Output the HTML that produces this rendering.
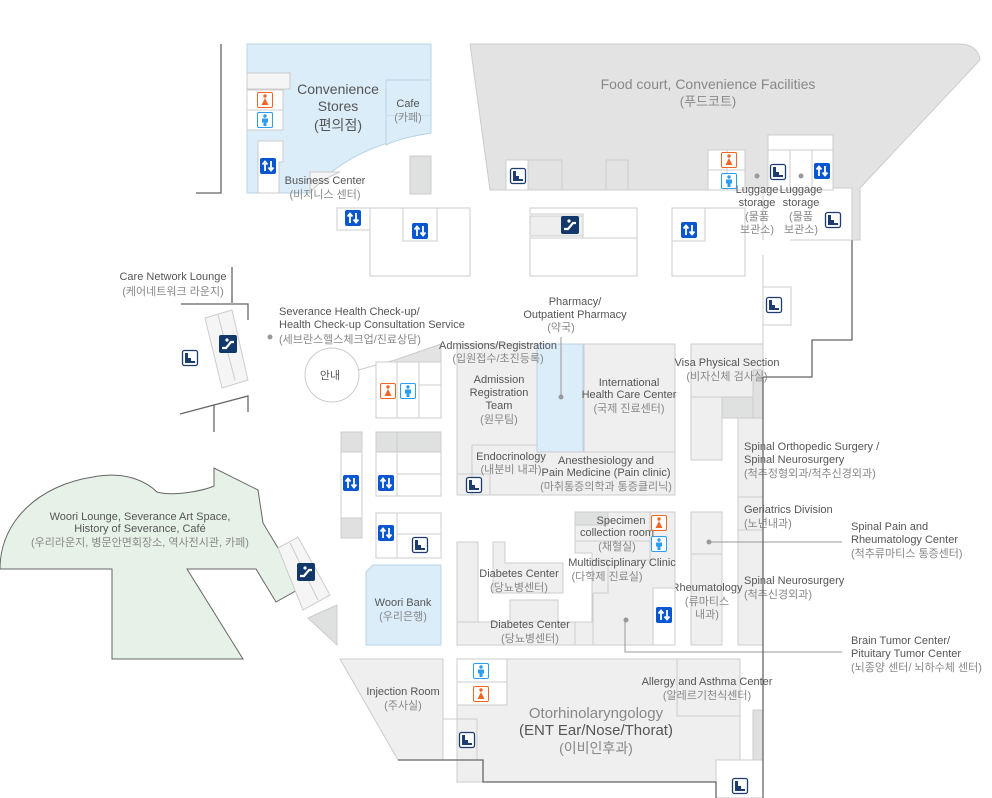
<!DOCTYPE html>
<html><head><meta charset="utf-8"><style>
html,body{margin:0;padding:0;background:#fff;}
svg{display:block;}
text{font-family:"Liberation Sans","Noto Sans CJK KR",sans-serif;font-size:11px;fill:#555;text-anchor:middle;letter-spacing:0px}
.k{fill:#888}
.s{text-anchor:start}
.r{fill:#efeff0;stroke:#ccc;stroke-width:1}
.w{fill:#fff;stroke:#ccc;stroke-width:1}
.g{fill:#dfe0e0;stroke:#ccc;stroke-width:1}
.wall{fill:none;stroke:#666;stroke-width:1.3}
.ld{fill:none;stroke:#999;stroke-width:1}
</style></head><body>
<svg width="992" height="798" viewBox="0 0 992 798">
<defs>
<g id="el"><rect x="0" y="0" width="16" height="16" rx="2" fill="#0a56d0"/><path d="M5 13V4M2.5 6.5L5 3.5L7.5 6.5M11 3v9M8.5 9.5L11 12.5L13.5 9.5" stroke="#fff" stroke-width="1.8" fill="none"/></g>
<g id="st"><rect x="0.5" y="0.5" width="15" height="15" rx="2" fill="#fff" stroke="#1d3d6e" stroke-width="1.3"/><path d="M3 3h3v5h3v3h4v2H3z" fill="#1d3d6e"/></g>
<g id="es"><rect x="0" y="0" width="18" height="18" rx="2" fill="#12386b"/><path d="M3 13h4l5-6h3" stroke="#fff" stroke-width="2.2" fill="none"/><circle cx="8" cy="5" r="1.6" fill="#fff"/></g>
<g id="fm"><rect x="0.5" y="0.5" width="15" height="15" rx="1.5" fill="#fff" stroke="#f26522"/><circle cx="8" cy="4" r="1.7" fill="#f26522"/><path d="M8 6L4.5 13h7z" fill="#f26522"/></g>
<g id="ml"><rect x="0.5" y="0.5" width="15" height="15" rx="1.5" fill="#fff" stroke="#2a9df4"/><circle cx="8" cy="4" r="1.7" fill="#2a9df4"/><path d="M5 6.5h6v4H9.5V14h-3v-3.5H5z" fill="#2a9df4"/></g>
</defs>

<!-- Food court -->
<path d="M470 44H958Q978 44 980 60L860 188V240H852V188H833V135H768V188H745V150H708V190H490Z" fill="#e3e3e3" stroke="#ccc"/>
<rect x="506" y="160" width="22" height="30" class="w"/>
<rect x="528" y="160" width="34" height="30" fill="#e3e3e3" stroke="#ccc"/>
<rect x="606" y="160" width="22" height="30" fill="#e3e3e3" stroke="#ccc"/>
<rect x="708" y="150" width="37" height="40" class="w"/>
<line x1="727" y1="150" x2="727" y2="190" stroke="#ccc"/>
<line x1="708" y1="170" x2="745" y2="170" stroke="#ccc"/>
<rect x="768" y="150" width="22" height="40" class="w"/><rect x="790" y="150" width="22" height="40" class="w"/><rect x="812" y="150" width="21" height="40" class="w"/>
<text x="708" y="89" style="font-size:14px" class="k">Food court, Convenience Facilities</text>
<text x="708" y="106" style="font-size:13px" class="k">(푸드코트)</text>

<!-- Convenience -->
<path d="M247 44H431V133Q350 145 310 193H247Z" fill="#dcedfa" stroke="#b9d4e4"/>
<rect x="386" y="80" width="45" height="36" fill="#dcedfa" stroke="#b9d4e4"/>
<path d="M386 116V145Q400 138 431 133V116" fill="#dcedfa" stroke="#b9d4e4"/>
<rect x="247" y="73" width="43" height="16" fill="#f5f5f5" stroke="#ccc"/>
<rect x="247" y="90" width="36" height="20" class="w"/><rect x="247" y="110" width="36" height="20" class="w"/>
<path d="M258 141H283V162H279V193H258Z" class="w"/>
<path d="M310 172H340Q320 180 310 193Z" fill="#f5f5f5" stroke="#ccc"/>
<rect x="410" y="156" width="21" height="38" class="g"/>
<text x="338" y="94" style="font-size:14px">Convenience</text>
<text x="338" y="111" style="font-size:14px">Stores</text>
<text x="338" y="130" style="font-size:14px">(편의점)</text>
<text x="408" y="107">Cafe</text><text x="408" y="121" class="k">(카페)</text>
<text x="325" y="184">Business Center</text><text x="325" y="198" class="k">(비지니스 센터)</text>
<path d="M221 44V193H196" class="wall"/>

<!-- top boxes -->
<rect x="337" y="208" width="33" height="22" class="w"/>
<path d="M370 208H403V241H437V208H470V276H370Z" class="w"/>
<rect x="403" y="208" width="34" height="33" class="w"/>
<path d="M530 208H637V238H583V214H530Z M530 238H637V276H530Z" fill="#fff" stroke="#ccc"/>
<rect x="530" y="216" width="53" height="20" fill="#eee" stroke="#ccc"/>
<rect x="672" y="208" width="73" height="68" class="w"/>
<rect x="672" y="208" width="33" height="33" class="w"/>
<path d="M763 190V240M763 255V355" stroke="#ccc"/>
<rect x="763" y="287" width="28" height="38" class="w"/>
<path d="M852 240V340H812V377H763" class="wall"/>
<path d="M790 240H852" stroke="#ccc"/>

<!-- left lounge area -->
<path d="M232 267V303M181 304H248V320" class="wall"/>
<path d="M205 318L232 310L248 380L222 388Z" fill="#f5f5f5" stroke="#ccc"/>
<path d="M218 315L235 380" stroke="#ccc"/>
<path d="M180 414L248 396V412M214 405V432" class="wall"/>
<path d="M0 569C0 520 40 485 93 477C130 470 150 485 157 492C175 497 205 490 214 486V468L258 490L263 523L278 548L299 589L276 602L256 569H187L243 659H112V569Z" fill="#e6f2e8" stroke="#666" stroke-width="1"/>
<path d="M278 548L298 537L330 595L303 610Z" fill="#f5f5f5" stroke="#ccc"/>
<path d="M290 543L318 600" stroke="#ccc"/>
<path d="M308 618L337 605V645Z" class="g"/>
<text x="140" y="520">Woori Lounge, Severance Art Space,</text>
<text x="140" y="532">History of Severance, Café</text>
<text x="140" y="546" class="k">(우리라운지, 병문안면회장소, 역사전시관, 카페)</text>

<text x="173" y="280">Care Network Lounge</text><text x="173" y="295" class="k">(케어네트워크 라운지)</text>
<text x="279" y="315" class="s">Severance Health Check-up/</text>
<text x="279" y="328" class="s">Health Check-up Consultation Service</text>
<text x="279" y="343" class="s k">(세브란스헬스체크업/진료상담)</text>
<circle cx="270" cy="337" r="2.5" fill="#999"/>
<circle cx="332" cy="375" r="27" fill="#fff" stroke="#ccc"/>
<text x="330" y="379">안내</text>
<path d="M358 370L395 360" stroke="#ccc" fill="none"/>
<path d="M395 360L441 344V362H395Z" fill="#e3e3e3" stroke="#ccc"/>

<!-- left columns -->
<rect x="376" y="362" width="65" height="56" class="w"/>
<path d="M397 362V418M419 362V418M419 385H441" stroke="#ccc"/>
<rect x="341" y="432" width="21" height="106" class="w"/>
<rect x="341" y="432" width="21" height="20" class="g"/><rect x="341" y="518" width="21" height="20" class="g"/>
<rect x="376" y="432" width="65" height="64" class="w"/>
<rect x="376" y="432" width="65" height="20" class="g"/>
<path d="M397 432V496M397 474H441" stroke="#ccc"/>
<rect x="376" y="513" width="65" height="45" class="w"/>
<path d="M397 513V558M397 534H441" stroke="#ccc"/>
<path d="M366 572L373 565H441V645H366Z" fill="#dcedfa" stroke="#b9d4e4"/>
<text x="403" y="606">Woori Bank</text><text x="403" y="620" class="k">(우리은행)</text>

<!-- central block -->
<rect x="457" y="344" width="218" height="151" class="r"/>
<rect x="537" y="344" width="46" height="108" fill="#dcedfa" stroke="#b9d4e4"/>
<path d="M472 445H537M472 445V495M584 452V344M457 474H490V495" stroke="#ccc" fill="none"/>
<path d="M537 452H675" stroke="#ccc"/>
<text x="499" y="383">Admission</text><text x="499" y="396">Registration</text><text x="499" y="409">Team</text><text x="499" y="423" class="k">(원무팀)</text>
<text x="629" y="386">International</text><text x="629" y="398">Health Care Center</text><text x="629" y="412" class="k">(국제 진료센터)</text>
<text x="511" y="460">Endocrinology</text><text x="511" y="473" class="k">(내분비 내과)</text>
<text x="606" y="464">Anesthesiology and</text><text x="606" y="476">Pain Medicine (Pain clinic)</text><text x="606" y="490" class="k">(마취통증의학과 통증클리닉)</text>
<text x="498" y="349">Admissions/Registration</text><text x="498" y="362" class="k">(입원접수/초진등록)</text>
<text x="575" y="305">Pharmacy/</text><text x="575" y="318">Outpatient Pharmacy</text><text x="561" y="331" class="k">(약국)</text>
<path d="M561 337V397" class="ld"/><circle cx="561" cy="397" r="2.5" fill="#999"/>

<!-- visa / spinal -->
<rect x="691" y="344" width="72" height="53" class="r"/>
<rect x="691" y="397" width="31" height="63" class="r"/>
<rect x="722" y="397" width="31" height="21" class="g"/>
<rect x="753" y="370" width="10" height="48" class="g"/>
<rect x="738" y="418" width="25" height="227" class="r"/>
<path d="M738 497H763M738 530H763" stroke="#ccc"/>
<rect x="691" y="512" width="31" height="133" class="r"/>
<path d="M691 554H722" stroke="#ccc"/>
<text x="727" y="366">Visa Physical Section</text><text x="727" y="380" class="k">(비자신체 검사실)</text>
<text x="744" y="450" class="s">Spinal Orthopedic Surgery /</text><text x="744" y="463" class="s">Spinal Neurosurgery</text><text x="744" y="477" class="s k">(척추정형외과/척추신경외과)</text>
<text x="744" y="513" class="s">Geriatrics Division</text><text x="744" y="527" class="s k">(노년내과)</text>
<text x="744" y="584" class="s">Spinal Neurosurgery</text><text x="744" y="598" class="s k">(척추신경외과)</text>
<text x="707" y="591">Rheumatology</text><text x="707" y="605" class="k">(류마티스</text><text x="707" y="618" class="k">내과)</text>
<path d="M709 542H842" class="ld"/><circle cx="709" cy="542" r="2.5" fill="#999"/>
<text x="851" y="530" class="s">Spinal Pain and</text><text x="851" y="543" class="s">Rheumatology Center</text><text x="851" y="557" class="s k">(척추류마티스 통증센터)</text>
<text x="851" y="644" class="s">Brain Tumor Center/</text><text x="851" y="657" class="s">Pituitary Tumor Center</text><text x="851" y="671" class="s k">(뇌종양 센터/ 뇌하수체 센터)</text>

<!-- lower central -->
<rect x="457" y="542" width="21" height="103" class="r"/>
<rect x="457" y="622" width="218" height="23" class="r"/>
<rect x="510" y="600" width="48" height="22" class="r"/>
<path d="M493 542H505V563H563V593H493Z" class="r"/>
<path d="M575 512H675V645H575V622H592V553H575Z" class="r"/>
<path d="M575 541H650M650 512V560M635 560H650M592 560H608V575M593 593V645M608 575V593H593" stroke="#ccc" fill="none"/>
<rect x="575" y="512" width="33" height="13" class="g"/>
<rect x="653" y="588" width="22" height="57" class="w"/>
<text x="621" y="524">Specimen</text><text x="617" y="536">collection room</text><text x="617" y="550" class="k">(채혈실)</text>
<text x="622" y="566">Multidisciplinary Clinic</text><text x="607" y="580" class="k">(다학제 진료실)</text>
<text x="519" y="577">Diabetes Center</text><text x="519" y="591" class="k">(당뇨병센터)</text>
<text x="530" y="628">Diabetes Center</text><text x="530" y="642" class="k">(당뇨병센터)</text>
<path d="M625 620V652H842" class="ld"/><circle cx="626" cy="620" r="2.5" fill="#999"/>

<!-- bottom -->
<path d="M340 659H443V760H398Z" class="r"/>
<rect x="443" y="719" width="14" height="41" class="w"/>
<rect x="457" y="659" width="283" height="123" class="r"/>
<rect x="457" y="659" width="50" height="46" class="w"/>
<path d="M457 682H507M457 719H477V760H483V782" stroke="#ccc" fill="none"/>
<path d="M677 659V716H740" stroke="#ccc" fill="none"/>
<rect x="716" y="760" width="47" height="38" class="w"/>
<rect x="753" y="710" width="10" height="50" class="g"/>
<path d="M398 760H483V782H716V798" class="wall"/>
<path d="M763 377V798" class="wall"/>
<text x="403" y="695">Injection Room</text><text x="403" y="709" class="k">(주사실)</text>
<text x="707" y="685">Allergy and Asthma Center</text><text x="707" y="699" class="k">(알레르기천식센터)</text>
<text x="596" y="718" style="font-size:15px" class="k">Otorhinolaryngology</text>
<text x="596" y="735" style="font-size:15px">(ENT Ear/Nose/Thorat)</text>
<text x="596" y="753" style="font-size:14px" class="k">(이비인후과)</text>

<!-- luggage -->
<circle cx="757" cy="176" r="2.5" fill="#999"/><circle cx="801" cy="176" r="2.5" fill="#999"/>
<text x="757" y="193">Luggage</text><text x="757" y="206">storage</text><text x="757" y="220" class="k">(물품</text><text x="757" y="233" class="k">보관소)</text>
<text x="801" y="193">Luggage</text><text x="801" y="206">storage</text><text x="801" y="220" class="k">(물품</text><text x="801" y="233" class="k">보관소)</text>

<!-- icons -->
<use href="#fm" x="257" y="92"/><use href="#ml" x="257" y="112"/>
<use href="#el" x="260" y="158"/>
<use href="#el" x="345" y="210"/><use href="#el" x="412" y="223"/>
<use href="#st" x="510" y="168"/>
<use href="#es" x="561" y="216"/>
<use href="#el" x="681" y="222"/>
<use href="#fm" x="721" y="152"/><use href="#ml" x="721" y="173"/>
<use href="#st" x="770" y="164"/><use href="#el" x="814" y="163"/>
<use href="#st" x="825" y="212"/>
<use href="#st" x="766" y="297"/>
<use href="#st" x="182" y="350"/>
<use href="#es" x="219" y="335"/>
<use href="#fm" x="380" y="383"/><use href="#ml" x="400" y="383"/>
<use href="#el" x="343" y="475"/><use href="#el" x="378" y="475"/><use href="#el" x="378" y="525"/>
<use href="#st" x="412" y="537"/>
<use href="#st" x="466" y="477"/>
<use href="#es" x="297" y="563"/>
<use href="#fm" x="651" y="515"/><use href="#ml" x="651" y="536"/>
<use href="#el" x="656" y="607"/>
<use href="#ml" x="473" y="663"/><use href="#fm" x="473" y="686"/>
<use href="#st" x="459" y="732"/>
<use href="#st" x="732" y="778"/>
</svg>
</body></html>
